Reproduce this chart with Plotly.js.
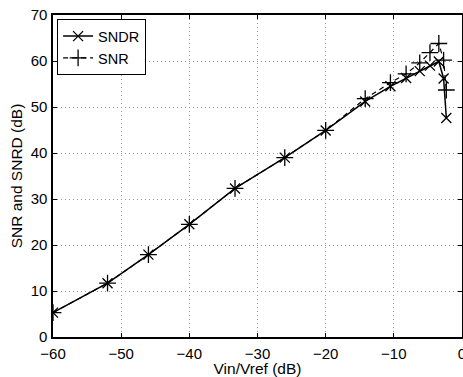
<!DOCTYPE html>
<html>
<head>
<meta charset="utf-8">
<script src="https://cdn.plot.ly/plotly-3.0.1.min.js"></script>
<style>html,body{margin:0;padding:0;background:#fff;}#chart{width:463px;height:377px;}</style>
</head>
<body>
<div id="chart"></div>
<script>
const vin = [-60, -52, -46, -40, -33.3, -26, -20, -14.2, -10.5, -8.2, -6.2, -4.7, -3.4, -2.7, -2.3];
const sndr = [5.3, 11.7, 17.9, 24.5, 32.3, 39.0, 44.9, 51.2, 54.5, 56.3, 57.8, 59.0, 59.9, 56.2, 47.6];
const snr = [5.3, 11.7, 17.9, 24.5, 32.3, 39.0, 44.9, 51.8, 55.3, 57.2, 59.6, 61.8, 63.8, 60.2, 53.7];
const xTicks = [-60, -50, -40, -30, -20, -10, 0];
const xTickText = ['\u221260', '\u221250', '\u221240', '\u221230', '\u221220', '\u221210', '0'];
const yTicks = [0, 10, 20, 30, 40, 50, 60, 70];

const fam = 'Liberation Sans, Arial, Helvetica, sans-serif';
const tickFont = {family: fam, size: 15, color: '#000'};
const titleFont = {family: fam, size: 15.5, color: '#000'};

const traces = [
  {x: vin, y: sndr, name: 'SNDR', mode: 'lines+markers', type: 'scatter',
   line: {color: '#000', width: 1.5},
   marker: {symbol: 'x-thin', size: 10, color: '#000', line: {color: '#000', width: 1.3}}},
  {x: vin, y: snr, name: 'SNR', mode: 'lines+markers', type: 'scatter',
   line: {color: '#000', width: 1.2, dash: '5px,4px'},
   marker: {symbol: 'cross-thin', size: 12, color: '#000', line: {color: '#000', width: 1.3}}}
];

const axisCommon = {
  showline: true, linecolor: '#000', linewidth: 1.6, mirror: 'ticks',
  ticks: 'inside', ticklen: 4, tickcolor: '#000', tickwidth: 1,
  showgrid: true, gridcolor: '#999', griddash: '1px,3px', gridwidth: 1,
  zeroline: false, tickfont: tickFont, ticklabeloverflow: 'allow'
};

const layout = {
  width: 463, height: 377,
  margin: {l: 53, r: 1, t: 15, b: 40},
  paper_bgcolor: '#fff', plot_bgcolor: '#fff',
  font: tickFont,
  showlegend: true,
  legend: {x: 0.01, y: 0.987, xanchor: 'left', yanchor: 'top',
           bordercolor: '#000', borderwidth: 1, bgcolor: '#fff',
           font: {family: fam, size: 14.5, color: '#000'},
           tracegroupgap: 0, itemwidth: 30},
  xaxis: Object.assign({}, axisCommon, {
    range: [-60, 0], tickvals: xTicks, ticktext: xTickText, ticklabelstandoff: 2,
    title: {text: 'Vin/Vref (dB)', font: titleFont, standoff: 0}
  }),
  yaxis: Object.assign({}, axisCommon, {
    range: [0, 70], tickvals: yTicks, ticklabelstandoff: 1,
    title: {text: 'SNR and SNRD (dB)', font: titleFont, standoff: 4}
  })
};

Plotly.newPlot('chart', traces, layout, {displayModeBar: false, staticPlot: true});
</script>
</body>
</html>
